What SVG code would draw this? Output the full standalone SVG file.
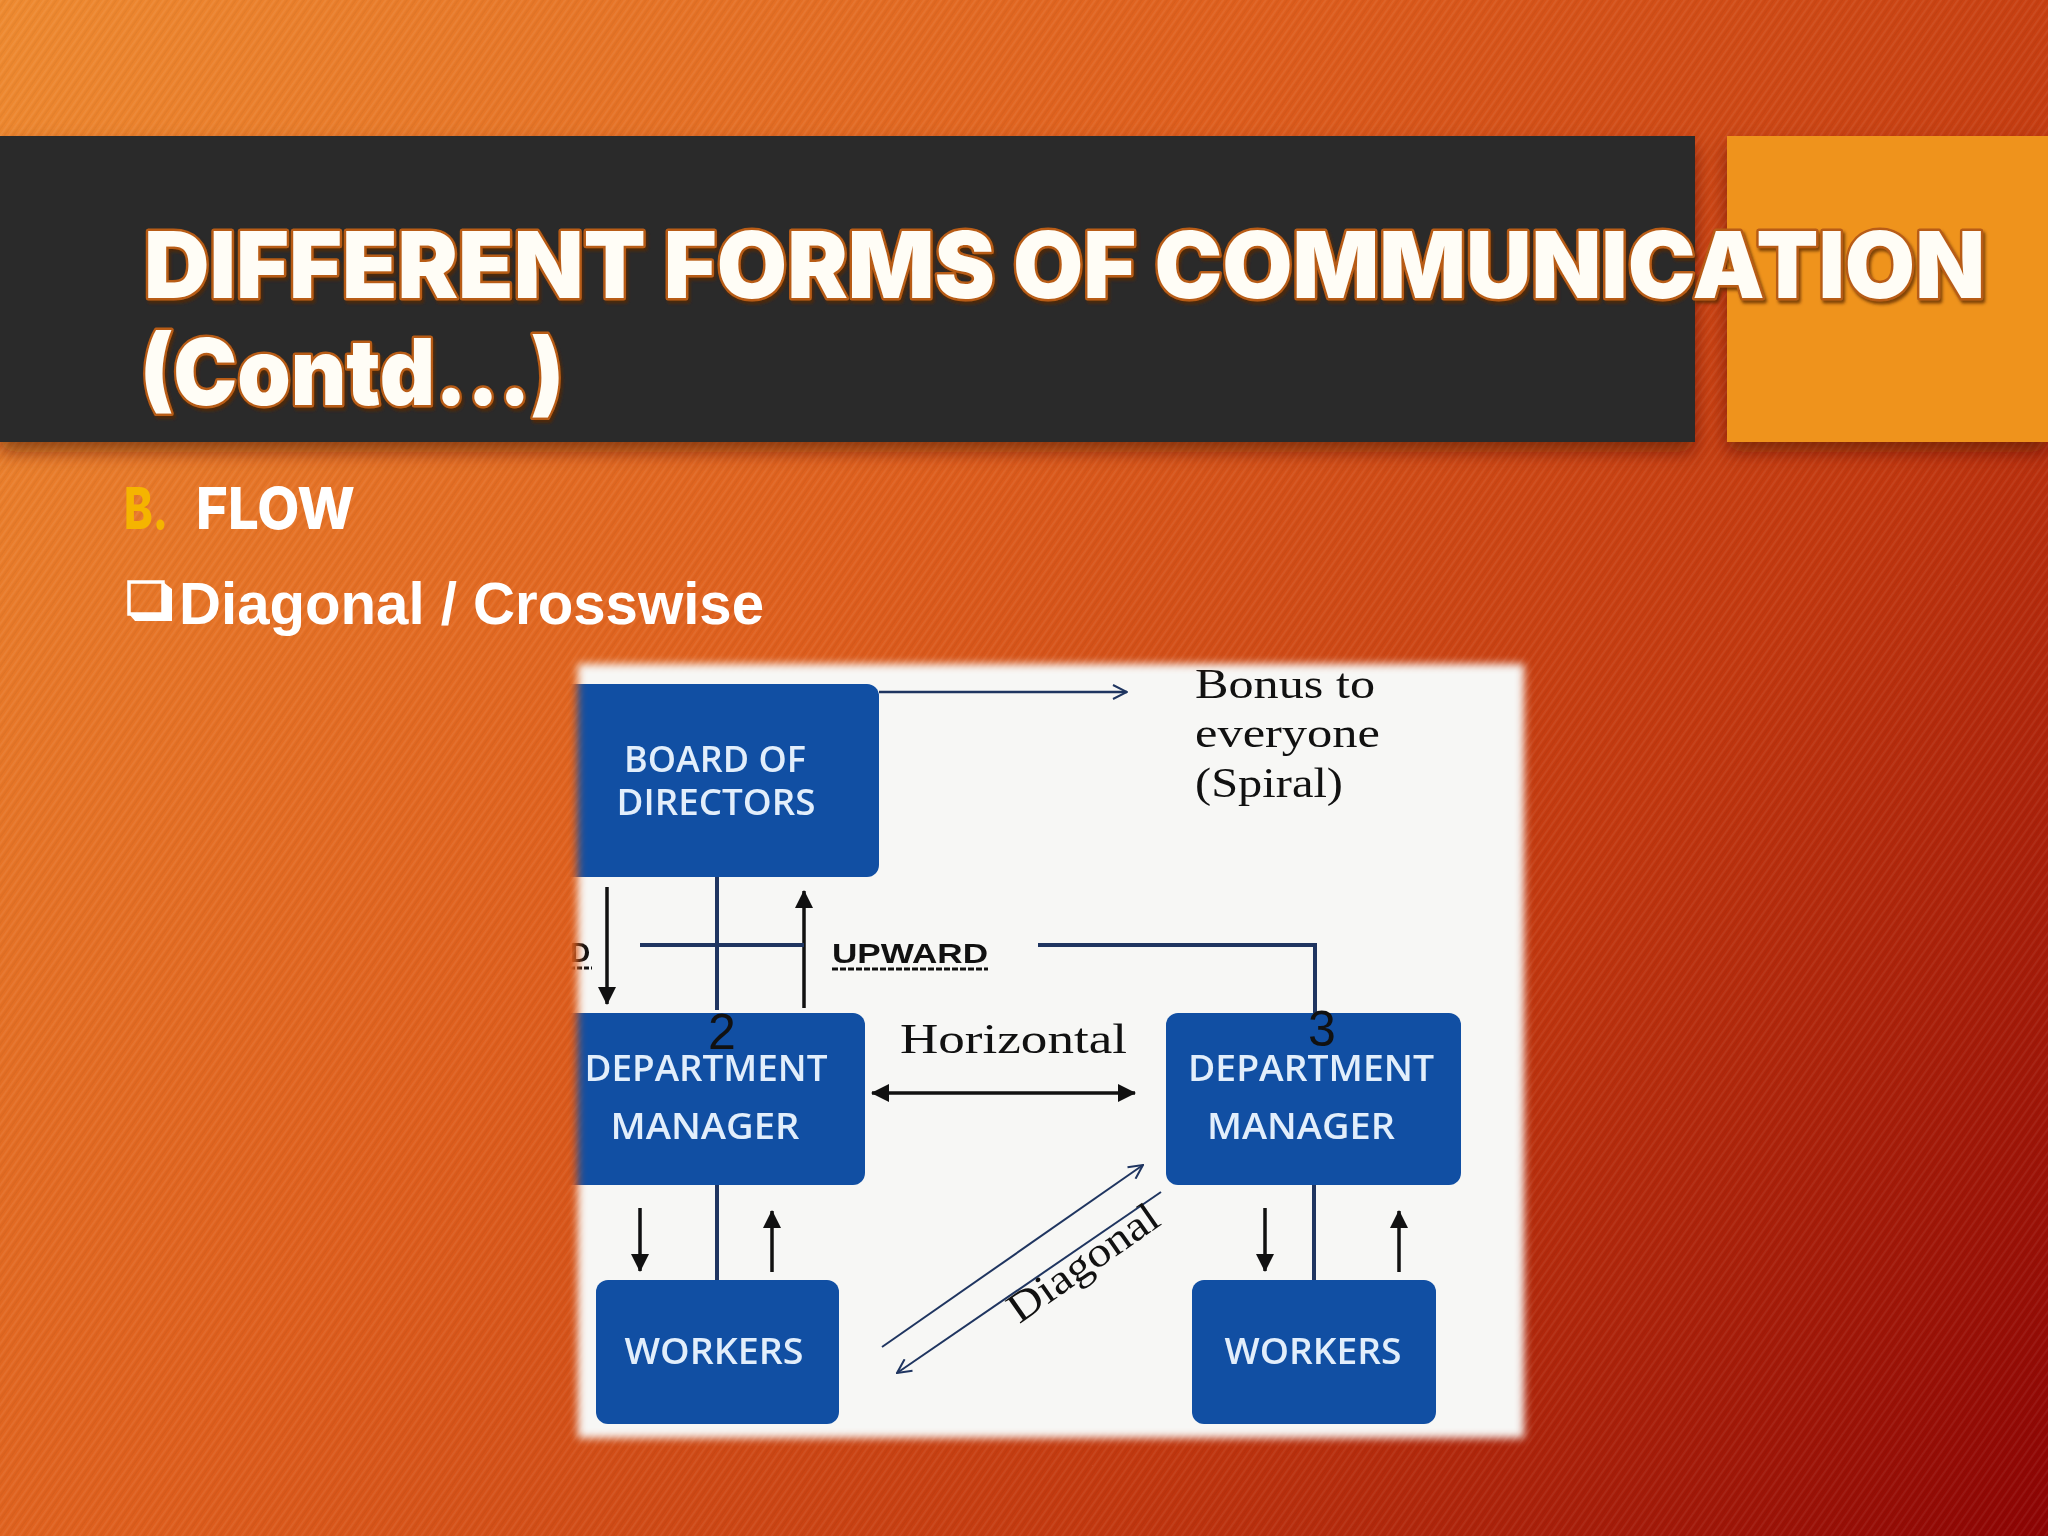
<svg xmlns="http://www.w3.org/2000/svg" width="2048" height="1536" viewBox="0 0 2048 1536">
<defs>
<linearGradient id="bg" x1="0" y1="0" x2="2048" y2="1536" gradientUnits="userSpaceOnUse">
<stop offset="0" stop-color="#ee8a30"/>
<stop offset="0.4" stop-color="#de5e1d"/>
<stop offset="0.7" stop-color="#c2380f"/>
<stop offset="1" stop-color="#8c0303"/>
</linearGradient>
<pattern id="stripes" width="7" height="7" patternUnits="userSpaceOnUse" patternTransform="rotate(35)">
<rect x="0" y="0" width="2" height="7" fill="#ffffff" opacity="0.06"/>
<rect x="3.5" y="0" width="1.5" height="7" fill="#000000" opacity="0.04"/>
</pattern>
<filter id="bannerShadow" x="-5%" y="-20%" width="110%" height="150%">
<feDropShadow dx="0" dy="10" stdDeviation="9" flood-color="#4a0c00" flood-opacity="0.55"/>
</filter>
<filter id="titleShadow" x="-5%" y="-20%" width="110%" height="150%">
<feDropShadow dx="2" dy="3" stdDeviation="1.5" flood-color="#5a2600" flood-opacity="0.75"/>
</filter>
<filter id="feather" x="-5%" y="-5%" width="110%" height="110%">
<feGaussianBlur stdDeviation="4"/>
</filter>
<mask id="panelMask" maskUnits="userSpaceOnUse" x="540" y="630" width="1020" height="850">
<rect x="578" y="664" width="946" height="774" fill="#ffffff" filter="url(#feather)"/>
</mask>
<marker id="ah" viewBox="0 0 18 18" refX="17" refY="9" markerWidth="18" markerHeight="18" markerUnits="userSpaceOnUse" orient="auto-start-reverse">
<path d="M0,0 L18,9 L0,18 Z" fill="#111111"/>
</marker>
<marker id="ch" viewBox="0 0 16 16" refX="15" refY="8" markerWidth="16" markerHeight="16" markerUnits="userSpaceOnUse" orient="auto">
<path d="M1,1 L15,8 L1,15" fill="none" stroke="#1f3560" stroke-width="2"/>
</marker>
<style>
.title{font-family:Inter,"Liberation Sans",Arial,sans-serif;font-weight:900;font-size:92px;fill:#fffdf6;stroke:#b85c16;stroke-width:5px;paint-order:stroke;stroke-linejoin:round}
.sub{font-family:"Liberation Sans",Arial,sans-serif;font-weight:bold;font-size:60px;fill:#ffffff}
.head{font-family:Inter,"Liberation Sans",Arial,sans-serif;font-weight:800;font-size:58px;fill:#ffffff}
.box{fill:#114fa3}
.btxt{font-family:"Open Sans","Liberation Sans",sans-serif;font-weight:600;font-size:36px;fill:#e2eefb;text-anchor:middle}
.serif{font-family:"Liberation Serif","Times New Roman",serif;font-size:42px;fill:#111111}
.num{font-family:"Liberation Sans",Arial,sans-serif;font-size:50px;fill:#111111;text-anchor:middle}
.navy{stroke:#1f3560;fill:none}
.blk{stroke:#111111;fill:none;stroke-width:3.5}
</style>
</defs>

<!-- background -->
<rect x="0" y="0" width="2048" height="1536" fill="url(#bg)"/>
<rect x="0" y="0" width="2048" height="1536" fill="url(#stripes)"/>

<!-- title banner -->
<g id="banner" filter="url(#bannerShadow)">
<rect x="0" y="136" width="1695" height="306" fill="#2a2a2c"/>
<rect x="1727" y="136" width="321" height="306" fill="#ef931d"/>
</g>
<g id="title" filter="url(#titleShadow)">
<text class="title" x="144" y="298" textLength="1841" lengthAdjust="spacingAndGlyphs">DIFFERENT FORMS OF COMMUNICATION</text>
<text class="title" x="140" y="405" textLength="424" lengthAdjust="spacingAndGlyphs">(Contd...)</text>
</g>

<!-- subheadings -->
<g id="heading">
<text class="head" x="124" y="529" style="fill:#f5b400" textLength="44" lengthAdjust="spacingAndGlyphs">B.</text>
<text class="head" x="196" y="529" textLength="159" lengthAdjust="spacingAndGlyphs">FLOW</text>
</g>
<g id="bullet">
<path d="M129,582 H163 V614 H129 Z" fill="none" stroke="#ffffff" stroke-width="3.5"/>
<path d="M129,614 L135,621 H172 V589 L163,582 V614 Z" fill="#ffffff"/>
<text class="sub" x="179" y="624" textLength="585" lengthAdjust="spacingAndGlyphs">Diagonal / Crosswise</text>
</g>

<!-- diagram panel -->
<g id="diagram" mask="url(#panelMask)">
<rect x="560" y="645" width="990" height="820" fill="#f7f7f5"/>

<g id="board">
<rect class="box" x="560" y="684" width="319" height="193" rx="12"/>
<text class="btxt" x="715" y="772" textLength="182" lengthAdjust="spacingAndGlyphs">BOARD OF</text>
<text class="btxt" x="716" y="815" textLength="199" lengthAdjust="spacingAndGlyphs">DIRECTORS</text>
</g>

<g id="dept-left">
<rect class="box" x="560" y="1013" width="305" height="172" rx="12"/>
<text class="btxt" x="706" y="1081" textLength="243" lengthAdjust="spacingAndGlyphs">DEPARTMENT</text>
<text class="btxt" x="705" y="1139" textLength="189" lengthAdjust="spacingAndGlyphs">MANAGER</text>
</g>

<g id="dept-right">
<rect class="box" x="1166" y="1013" width="295" height="172" rx="12"/>
<text class="btxt" x="1311" y="1081" textLength="246" lengthAdjust="spacingAndGlyphs">DEPARTMENT</text>
<text class="btxt" x="1301" y="1139" textLength="188" lengthAdjust="spacingAndGlyphs">MANAGER</text>
</g>

<g id="workers-left">
<rect class="box" x="596" y="1280" width="243" height="144" rx="12"/>
<text class="btxt" x="714" y="1364" textLength="179" lengthAdjust="spacingAndGlyphs">WORKERS</text>
</g>

<g id="workers-right">
<rect class="box" x="1192" y="1280" width="244" height="144" rx="12"/>
<text class="btxt" x="1313" y="1364" textLength="177" lengthAdjust="spacingAndGlyphs">WORKERS</text>
</g>

<g id="connectors">
<line class="navy" x1="879" y1="692" x2="1127" y2="692" stroke-width="2.5" marker-end="url(#ch)"/>
<line class="blk" x1="607" y1="887" x2="607" y2="1004" marker-end="url(#ah)"/>
<line class="navy" x1="717" y1="877" x2="717" y2="1010" stroke-width="4"/>
<line class="blk" x1="804" y1="1008" x2="804" y2="891" marker-end="url(#ah)"/>
<line class="navy" x1="640" y1="945" x2="804" y2="945" stroke-width="4"/>
<path class="navy" d="M1038,945 H1315 V1013" stroke-width="4"/>
<line class="blk" x1="872" y1="1093" x2="1135" y2="1093" marker-start="url(#ah)" marker-end="url(#ah)"/>
<line class="blk" x1="640" y1="1208" x2="640" y2="1271" marker-end="url(#ah)"/>
<line class="navy" x1="717" y1="1185" x2="717" y2="1280" stroke-width="4"/>
<line class="blk" x1="772" y1="1272" x2="772" y2="1211" marker-end="url(#ah)"/>
<line class="blk" x1="1265" y1="1208" x2="1265" y2="1271" marker-end="url(#ah)"/>
<line class="navy" x1="1314" y1="1185" x2="1314" y2="1280" stroke-width="4"/>
<line class="blk" x1="1399" y1="1272" x2="1399" y2="1211" marker-end="url(#ah)"/>
<line class="navy" x1="882" y1="1347" x2="1143" y2="1165" stroke-width="2" marker-end="url(#ch)"/>
<line class="navy" x1="1161" y1="1192" x2="897" y2="1373" stroke-width="2" marker-end="url(#ch)"/>
</g>

<g id="labels">
<text class="serif" x="1195" y="698" textLength="180" lengthAdjust="spacingAndGlyphs">Bonus to</text>
<text class="serif" x="1195" y="747" textLength="185" lengthAdjust="spacingAndGlyphs">everyone</text>
<text class="serif" x="1195" y="797" textLength="148" lengthAdjust="spacingAndGlyphs">(Spiral)</text>
<text class="serif" x="900" y="1053" textLength="227" lengthAdjust="spacingAndGlyphs">Horizontal</text>
<text class="serif" text-anchor="middle" transform="translate(1091,1274) rotate(-35)" textLength="175" lengthAdjust="spacingAndGlyphs">Diagonal</text>
<text class="num" x="722" y="1049">2</text>
<text class="num" x="1322" y="1046">3</text>
<text x="570" y="962" style="font-family:'Liberation Sans',Arial,sans-serif;font-weight:bold;font-size:28px;fill:#111111">D</text>
<line x1="570" y1="968" x2="592" y2="968" stroke="#111111" stroke-width="3" stroke-dasharray="5 2"/>
<text x="832" y="963" textLength="156" lengthAdjust="spacingAndGlyphs" style="font-family:'Liberation Sans',Arial,sans-serif;font-weight:bold;font-size:28px;fill:#111111">UPWARD</text>
<line x1="832" y1="969" x2="988" y2="969" stroke="#111111" stroke-width="3" stroke-dasharray="6 2"/>
</g>
</g>
</svg>
